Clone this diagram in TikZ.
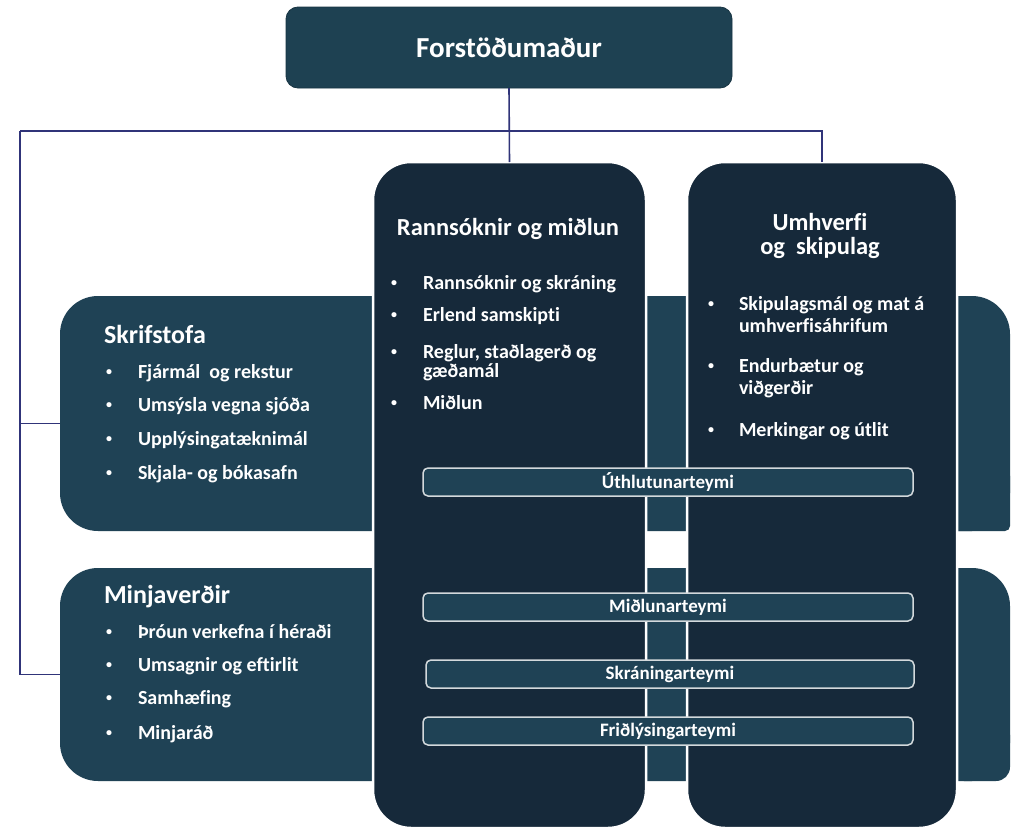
\documentclass[tikz,border=0pt]{standalone}
\usepackage{fontspec}
\setmainfont{Carlito}[Ligatures={NoCommon}]
\definecolor{widec}{HTML}{1F4255}
\definecolor{colc}{HTML}{16293A}
\definecolor{topc}{HTML}{1E4152}
\definecolor{linec}{HTML}{303479}
\definecolor{barline}{HTML}{D3D9DC}
\newcommand\ml[1]{\begin{tabular}[t]{@{}l@{}}#1\end{tabular}}
\newcommand\mc[1]{\begin{tabular}[t]{@{}c@{}}#1\end{tabular}}
\newcommand\smbul{\raisebox{3pt}{\fontsize{12}{12}\selectfont•}}
\newcommand\bitem[5]{\node[itm] (#1d) at (#2,#4) {\smbul}; \node[itm] (#1) at (#3,#4) {#5};}
\begin{document}
\begin{tikzpicture}[x=1pt,y=-1pt,
 every node/.style={inner sep=0pt,outer sep=0pt,text=white,font=\bfseries},
 widebox/.style={fill=widec,rounded corners=38pt,anchor=north west},
 colbox/.style={fill=colc,draw=white,line width=2.5pt,rounded corners=38pt,anchor=north west},
 topbox/.style={fill=topc,draw=topc!80!black,line width=0.8pt,rounded corners=12pt,font=\bfseries\fontsize{29}{32}\selectfont},
 teambar/.style={fill=widec,draw=barline,line width=1.5pt,rounded corners=5pt,minimum width=490pt,minimum height=28pt,font=\bfseries\fontsize{19}{20}\selectfont},
 head/.style={anchor=base west,font=\bfseries\fontsize{26}{28}\selectfont},
 chead/.style={anchor=base,font=\bfseries\fontsize{24.5}{23}\selectfont},
 itm/.style={anchor=base west,font=\bfseries\fontsize{20}{22}\selectfont},
 conn/.style={draw=linec,line width=1.6pt}]
\useasboundingbox (0,0) rectangle (1018,830);
\fill[white] (0,0) rectangle (1018,830);

% wide boxes
\node[widebox,minimum width=950pt,minimum height=235pt] (skrif) at (60,296) {};
\fill[widec,rounded corners=5pt] ([xshift=-60pt,yshift=60pt]skrif.south east) rectangle (skrif.south east);
\node[widebox,minimum width=950pt,minimum height=213pt] (minja) at (60,568) {};
\fill[widec,rounded corners=14pt] ([xshift=-60pt,yshift=60pt]minja.south east) rectangle (minja.south east);

% columns
\node[colbox,minimum width=273pt,minimum height=666pt] (rann) at (373,162) {};
\node[colbox,minimum width=270pt,minimum height=666pt] (umhv) at (687,162) {};

% top box
\node[topbox,minimum width=446pt,minimum height=81pt] (top) at (509,47.5) {Forstöðumaður};

% Skrifstofa
\node[head] (skh) at (104,343) {Skrifstofa};
\bitem{sk1}{106}{138}{378}{Fjármál~ og rekstur}
\bitem{sk2}{106}{138}{411}{Umsýsla vegna sjóða}
\bitem{sk3}{106}{138}{445}{Upplýsingatæknimál}
\bitem{sk4}{106}{138}{479}{Skjala- og bókasafn}

% Minjaverðir
\node[head] (mih) at (104,603) {Minjaverðir};
\bitem{mi1}{106}{138}{638}{Þróun verkefna í héraði}
\bitem{mi2}{106}{138}{671}{Umsagnir og eftirlit}
\bitem{mi3}{106}{138}{704}{Samhæfing}
\bitem{mi4}{106}{138}{739}{Minjaráð}

% Rannsóknir og miðlun
\node[chead] (rah) at (508,235) {Rannsóknir og miðlun};
\bitem{ra1}{391}{423}{289}{Rannsóknir og skráning}
\bitem{ra2}{391}{423}{321}{Erlend samskipti}
\bitem{ra3}{391}{423}{358}{\fontsize{20}{18}\selectfont\ml{Reglur, staðlagerð og\\gæðamál}}
\bitem{ra4}{391}{423}{409}{Miðlun}

% Umhverfi og skipulag
\node[chead] (umh) at (820,230) {\mc{Umhverfi\\og~ skipulag}};
\bitem{um1}{708}{739}{310}{\ml{Skipulagsmál og mat á\\umhverfisáhrifum}}
\bitem{um2}{708}{739}{372}{\ml{Endurbætur og\\viðgerðir}}
\bitem{um3}{708}{739}{436}{Merkingar og útlit}

% team bars
\node[teambar] (t1) at (668,482) {Úthlutunarteymi};
\node[teambar] (t2) at (668,607) {Miðlunarteymi};
\node[teambar,minimum width=488pt] (t3) at (670,674) {Skráningarteymi};
\node[teambar] (t4) at (668,731) {Friðlýsingarteymi};

% connectors
\coordinate (L) at (20,131);
\coordinate (sb) at ([yshift=-10pt]skrif.west);
\draw[conn] (top.south) -- (rann.north);
\draw[conn] (L) -- (L -| umhv.north) -- (umhv.north);
\draw[conn] (L) |- (minja.west);
\draw[conn] (sb -| L) -- (sb);
\end{tikzpicture}
\end{document}
